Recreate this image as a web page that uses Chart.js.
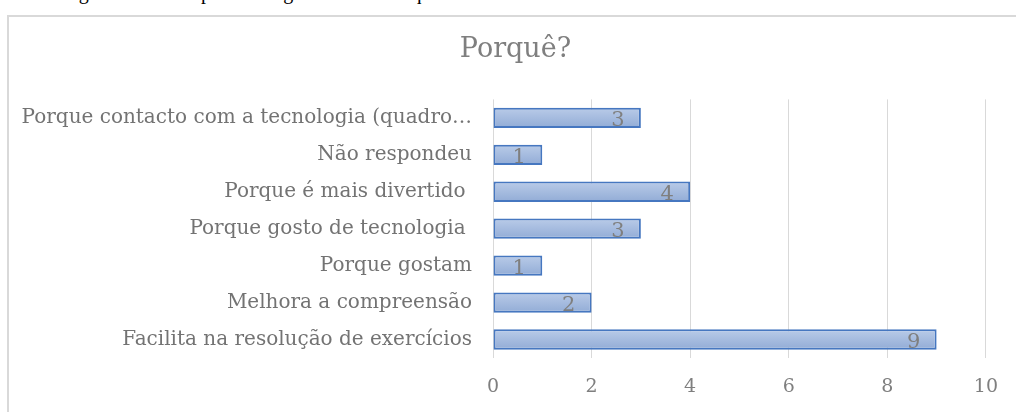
<!DOCTYPE html>
<html>
<head>
<meta charset="utf-8">
<script src="https://cdn.jsdelivr.net/npm/chart.js@4/dist/chart.umd.min.js"></script>
<style>
  html, body { margin: 0; padding: 0; background: #fff; }
  #wrap { position: relative; width: 1016px; height: 412px; overflow: hidden; }
  #topline { position: absolute; left: 20px; top: -19px; font: 20px "Liberation Serif", serif; color: #000; white-space: nowrap; }
  #frame { position: absolute; left: 7px; top: 15px; width: 1020px; height: 420px; border: 2px solid #d9d9d9; box-sizing: border-box; }
  canvas { position: absolute; left: 0; top: 0; }
</style>
</head>
<body>
<div id="wrap">
  <div id="topline">tecnologia também responda a algumas das suas questões.</div>
  <div id="frame"></div>
  <canvas id="porqueChart" width="1016" height="412"></canvas>
</div>
<script>
// données
const categories = [
    'Porque contacto com a tecnologia (quadro…',
    'Não respondeu',
    'Porque é mais divertido ',
    'Porque gosto de tecnologia ',
    'Porque gostam',
    'Melhora a compreensão',
    'Facilita na resolução de exercícios'
];
const respostas = [3, 1, 4, 3, 1, 2, 9];
const xTicks = [0, 2, 4, 6, 8, 10];

const serif = '"DejaVu Serif", "Liberation Serif", serif';

// étiquettes de valeur, à la fin de chaque barre
const valueLabels = {
    id: 'valueLabels',
    afterLayout(chart) {
        // le titre est un peu décalé vers la droite dans l'original
        if (chart.titleBlock) chart.titleBlock.left += 36;
    },
    afterDatasetsDraw(chart) {
        const ctx = chart.ctx;
        const meta = chart.getDatasetMeta(0);
        ctx.save();
        ctx.font = '21px ' + serif;
        ctx.fillStyle = '#7f7f7f';
        ctx.textAlign = 'center';
        ctx.textBaseline = 'middle';
        meta.data.forEach((bar, i) => {
            ctx.fillText(String(respostas[i]), bar.x - 23, bar.y + 3);
        });
        ctx.restore();
    }
};

// dégradé vertical de chaque barre
function barGradient(c) {
    const yScale = c.chart.scales.y;
    if (!yScale || c.dataIndex === undefined) return '#a9bde2';
    const mid = yScale.getPixelForValue(c.dataIndex);
    if (!Number.isFinite(mid)) return '#a9bde2';
    const g = c.chart.ctx.createLinearGradient(0, mid - 10, 0, mid + 10);
    g.addColorStop(0, '#b9cbe8');
    g.addColorStop(1, '#92acd6');
    return g;
}

const canvas = document.getElementById('porqueChart');
new Chart(canvas.getContext('2d'), {
    type: 'bar',
    data: {
        labels: categories,
        datasets: [{
            data: respostas,
            backgroundColor: barGradient,
            borderColor: '#4677c0',
            borderWidth: 2,
            borderSkipped: false,
            barPercentage: 0.55,
            categoryPercentage: 1
        }]
    },
    options: {
        indexAxis: 'y',
        responsive: false,
        animation: false,
        layout: { padding: { left: 8, right: 29, top: 0, bottom: 14 } },
        plugins: {
            legend: { display: false },
            tooltip: { enabled: false },
            title: {
                display: true,
                text: 'Porquê?',
                color: '#7f7f7f',
                font: { family: serif, size: 27, weight: 'normal' },
                padding: { top: 34, bottom: 33 }
            }
        },
        scales: {
            x: {
                min: 0,
                max: 10,
                afterBuildTicks(scale) { scale.ticks = xTicks.map(v => ({ value: v })); },
                afterFit(scale) { scale.height = 40; },
                grid: { color: '#d9d9d9', lineWidth: 1, drawTicks: false },
                border: { display: false },
                ticks: { color: '#7f7f7f', padding: 18, font: { family: serif, size: 19 } }
            },
            y: {
                afterFit(scale) { scale.width = 485; },
                grid: { display: false },
                border: { display: false },
                ticks: { color: '#737373', padding: 13, font: { family: serif, size: 20 } }
            }
        }
    },
    plugins: [valueLabels]
});
</script>
</body>
</html>
